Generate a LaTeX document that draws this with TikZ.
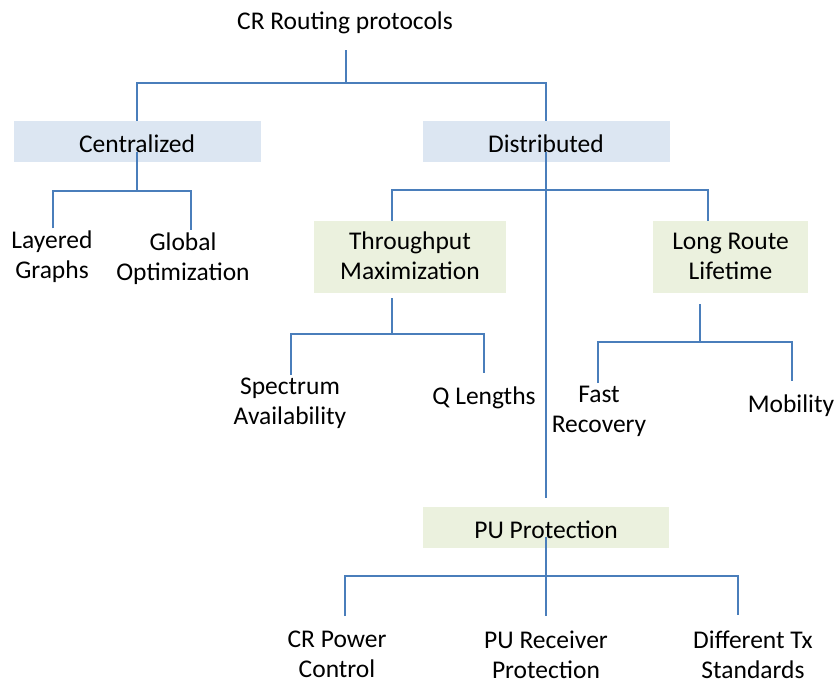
\documentclass[tikz,border=0pt]{standalone}
\usepackage{fontspec}
\setmainfont{Carlito}
\usetikzlibrary{positioning}
\definecolor{linkcol}{RGB}{74,126,187}
\definecolor{catblue}{RGB}{220,230,242}
\definecolor{catgreen}{RGB}{235,241,222}
\tikzset{
  % tree connector
  link/.style={draw=linkcol, line width=2pt},
  % shaded category box
  catbox/.style={rectangle, fill=#1, inner sep=0pt, align=center},
  catbox/.default={catblue},
  % single text line, baseline below middle
  oneline/.style={text height=22.5pt, text depth=0.5pt},
  % struts on first and last line
  struts/.style={execute at begin node=\strut, execute at end node=\strut},
  % plain leaf text
  leaf/.style={inner sep=0pt, align=center, struts, yshift=-2.5pt},
}
\begin{document}
\begin{tikzpicture}[x=1pt, y=-1pt, font=\fontsize{25.5}{30}\selectfont]
  \useasboundingbox (0,0) rectangle (838,684);

  % root
  \node[leaf, inner ysep=11.5pt] (root) at (345,21) {CR Routing protocols};

  % Centralized / Distributed
  \node[catbox, oneline, minimum width=247pt, minimum height=41pt] (cen) at (137,141.5) {Centralized};
  \node[catbox, oneline, minimum width=247pt, minimum height=41pt] (dis) at (546,141.5) {Distributed};
  \coordinate (j0) at (346,83);
  \draw[link] (root.south -| j0) -- (j0);
  \draw[link] (cen.north) |- (j0) -| (dis.north);

  % centralized branch
  \node[leaf] (lay) at (52,257) {Layered\\Graphs};
  \node[leaf] (glo) at (183,259) {Global\\Optimization};
  \coordinate (j1) at (137,191);
  \draw[link] ([yshift=-10.5pt]cen.center) -- (j1);
  \draw[link] ([xshift=1pt,yshift=2.5pt]lay.north) |- (j1) -| ([xshift=8pt,yshift=2.5pt]glo.north);

  % distributed branch
  \node[catbox=catgreen, struts, minimum width=192pt, minimum height=72pt] (thr) at (410,257) {\rule{0pt}{25pt}Throughput\\Maximization};
  \node[catbox=catgreen, struts, minimum width=155pt, minimum height=72pt] (lrl) at (730.5,257) {\rule{0pt}{25pt}Long Route\\Lifetime};
  \coordinate (j2) at (546,190);
  \draw[link] ([xshift=-18pt]thr.north) |- (j2) -| ([xshift=-22.5pt]lrl.north);

  % throughput
  \node[leaf] (spe) at (290,403) {Spectrum\\Availability};
  \node[leaf] (qle) at (484,396) {Q Lengths};
  \coordinate (j3) at (392,334);
  \draw[link] ([xshift=-18pt,yshift=-5pt]thr.south) -- (j3);
  \draw[link] ([xshift=1pt,yshift=2.5pt]spe.north) |- (j3) -| ([yshift=10.5pt]qle.north);

  % route lifetime
  \node[leaf] (fas) at (599,411) {Fast\\Recovery};
  \node[leaf] (mob) at (791,404) {Mobility};
  \coordinate (j4) at (700,342);
  \draw[link] ([xshift=-30.5pt,yshift=-11pt]lrl.south) -- (j4);
  \draw[link] ([xshift=-1pt,yshift=2.5pt]fas.north) |- (j4) -| ([xshift=1pt,yshift=10.5pt]mob.north);

  % PU protection
  \node[catbox=catgreen, oneline, minimum width=246pt, minimum height=41pt] (pup) at (546,527) {PU Protection};
  \draw[link] ([yshift=-10.5pt]dis.center) -- ([yshift=8pt]pup.north);

  \node[leaf] (crp) at (337,656.5) {CR Power\\Control};
  \node[leaf] (pur) at (546,656.5) {PU Receiver\\Protection};
  \node[leaf] (dif) at (753,656.5) {Different Tx\\Standards};
  \coordinate (j5) at (546,576);
  \draw[link] ([yshift=-10pt]pup.center) -- (j5);
  \draw[link] ([xshift=8pt,yshift=15pt]crp.north) |- (j5) -| ([xshift=-15pt,yshift=15pt]dif.north);
  \draw[link] (j5) -- ([yshift=15pt]pur.north);
\end{tikzpicture}
\end{document}
